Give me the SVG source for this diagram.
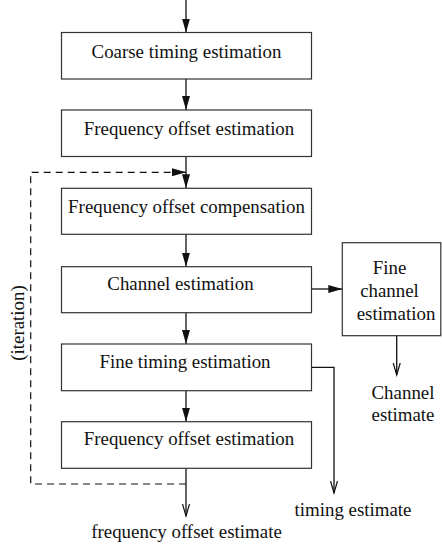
<svg xmlns="http://www.w3.org/2000/svg" width="442" height="548" viewBox="0 0 442 548">
<style>
.box{fill:#fff;stroke:#333;stroke-width:1.2}
.t{font-family:"Liberation Serif","Times New Roman",serif;font-size:18.9px;fill:#111;text-anchor:middle}
.c{fill:none;stroke:#111;stroke-width:1.3}
.d{fill:none;stroke:#111;stroke-width:1.2;stroke-dasharray:7,5}
</style>
<defs>
<marker id="fa" markerUnits="userSpaceOnUse" markerWidth="16" markerHeight="10" refX="14" refY="4.5" orient="auto">
<polygon points="0,0.5 14,4.5 0,8.5" fill="#111"/>
</marker>
<marker id="oa" markerUnits="userSpaceOnUse" markerWidth="14" markerHeight="10" refX="12" refY="4" orient="auto">
<polyline points="0,0.5 12,4 0,7.5" fill="none" stroke="#111" stroke-width="1.2"/>
</marker>
</defs>
<g id="connectors">
<line class="c" x1="186" y1="0" x2="186" y2="32.5" marker-end="url(#fa)"/>
<line class="c" x1="186" y1="79" x2="186" y2="110" marker-end="url(#fa)"/>
<line class="c" x1="186" y1="156.5" x2="186" y2="188.3" marker-end="url(#fa)"/>
<line class="c" x1="186" y1="234.3" x2="186" y2="266.7" marker-end="url(#fa)"/>
<line class="c" x1="186" y1="312.7" x2="186" y2="344" marker-end="url(#fa)"/>
<line class="c" x1="186" y1="390.7" x2="186" y2="421.7" marker-end="url(#fa)"/>
<line class="c" x1="311.5" y1="289" x2="342.3" y2="289" marker-end="url(#fa)"/>
<polyline class="c" points="311.5,367.3 334,367.3 334,493" marker-end="url(#oa)"/>
<line class="c" x1="396.7" y1="335.7" x2="396.7" y2="375" marker-end="url(#oa)"/>
<line class="c" x1="186" y1="468.3" x2="186" y2="516" marker-end="url(#oa)"/>
<polyline class="d" points="186,484 30.7,484 30.7,172.3 172,172.3"/>
<line class="c" x1="172" y1="172.3" x2="186" y2="172.3" marker-end="url(#fa)"/>
</g>
<g id="n1"><rect class="box" x="61.5" y="32.5" width="250" height="46.5"/><text class="t" x="186.5" y="57.5">Coarse timing estimation</text></g>
<g id="n2"><rect class="box" x="61.5" y="110" width="250" height="46.5"/><text class="t" x="189" y="135">Frequency offset estimation</text></g>
<g id="n3"><rect class="box" x="61.5" y="188.3" width="250" height="46" /><text class="t" x="186.5" y="212.5">Frequency offset compensation</text></g>
<g id="n4"><rect class="box" x="61.5" y="266.7" width="250" height="46"/><text class="t" x="180.5" y="290">Channel estimation</text></g>
<g id="n5"><rect class="box" x="61.5" y="344" width="250" height="46.7"/><text class="t" x="185" y="368">Fine timing estimation</text></g>
<g id="n6"><rect class="box" x="61.5" y="421.7" width="250" height="46.6"/><text class="t" x="189" y="445">Frequency offset estimation</text></g>
<g id="n7"><rect class="box" x="342.3" y="242.7" width="98.5" height="93"/>
<text class="t" x="389.5" y="274">Fine</text><text class="t" x="389.5" y="297">channel</text><text class="t" x="396" y="320">estimation</text></g>
<g id="labels">
<text class="t" x="403" y="399">Channel</text>
<text class="t" x="403" y="421">estimate</text>
<text class="t" x="353" y="516">timing estimate</text>
<text class="t" x="186.5" y="538">frequency offset estimate</text>
<text class="t" transform="translate(24,323) rotate(-90)">(iteration)</text>
</g>
</svg>
